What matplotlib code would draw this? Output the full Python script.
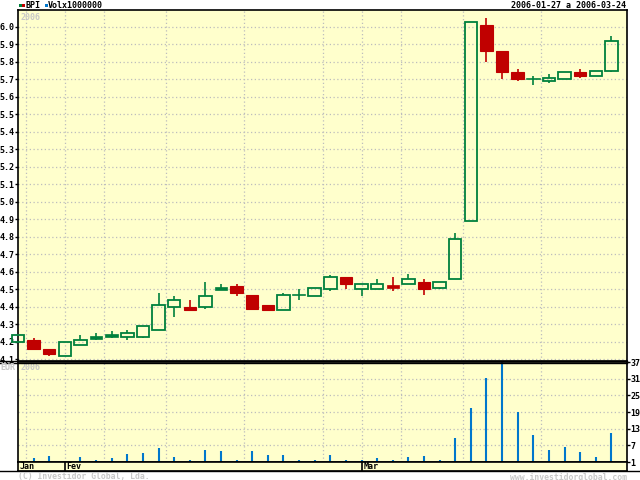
import matplotlib
matplotlib.use("Agg")
import matplotlib.pyplot as plt
from matplotlib.patches import Rectangle
from matplotlib.lines import Line2D

# BPI daily candles, 2006-01-27 .. 2006-03-24 (one entry per trading day)
opens  = [4.20, 4.21, 4.16, 4.12, 4.18, 4.22, 4.23, 4.23, 4.23, 4.27,
          4.40, 4.40, 4.40, 4.50, 4.52, 4.47, 4.41, 4.38, 4.47, 4.46,
          4.50, 4.57, 4.50, 4.50, 4.52, 4.53, 4.54, 4.51, 4.56, 4.89,
          6.01, 5.86, 5.74, 5.70, 5.69, 5.70, 5.74, 5.72, 5.75]
closes = [4.24, 4.16, 4.13, 4.20, 4.21, 4.23, 4.24, 4.25, 4.29, 4.41,
          4.44, 4.38, 4.46, 4.51, 4.48, 4.39, 4.38, 4.47, 4.47, 4.51,
          4.57, 4.53, 4.53, 4.53, 4.51, 4.56, 4.50, 4.54, 4.79, 6.03,
          5.86, 5.74, 5.70, 5.70, 5.71, 5.74, 5.72, 5.75, 5.92]
highs  = [4.24, 4.22, 4.16, 4.20, 4.24, 4.25, 4.26, 4.27, 4.29, 4.48,
          4.46, 4.44, 4.54, 4.53, 4.53, 4.47, 4.41, 4.48, 4.50, 4.51,
          4.58, 4.57, 4.53, 4.56, 4.57, 4.59, 4.56, 4.54, 4.82, 6.03,
          6.05, 5.86, 5.76, 5.72, 5.73, 5.74, 5.76, 5.75, 5.95]
lows   = [4.20, 4.16, 4.12, 4.12, 4.18, 4.21, 4.22, 4.21, 4.22, 4.27,
          4.34, 4.38, 4.39, 4.50, 4.46, 4.39, 4.38, 4.38, 4.44, 4.46,
          4.49, 4.50, 4.46, 4.50, 4.49, 4.53, 4.47, 4.50, 4.56, 4.89,
          5.80, 5.70, 5.69, 5.67, 5.68, 5.70, 5.71, 5.72, 5.74]
volume = [1.0, 2.3, 3.3, 1.0, 2.7, 1.9, 2.3, 4.0, 4.1, 6.1,
          2.9, 1.9, 5.5, 4.8, 1.6, 4.8, 3.4, 3.4, 1.6, 1.6,
          3.4, 1.9, 1.9, 2.3, 1.6, 2.7, 3.0, 1.6, 9.5, 20.6,
          31.4, 37.0, 18.9, 10.9, 5.2, 6.3, 4.5, 2.7, 11.3]

price_ticks = [4.1, 4.2, 4.3, 4.4, 4.5, 4.6, 4.7, 4.8, 4.9, 5.0,
               5.1, 5.2, 5.3, 5.4, 5.5, 5.6, 5.7, 5.8, 5.9, 6.0]
vol_ticks = [1, 7, 13, 19, 25, 31, 37]
week_breaks = [0.5, 5.5, 9.5, 14.5, 19.5, 24.5, 28.5, 33.5]
month_names = ["Jan", "Fev", "Mar"]
month_starts = [0, 3, 22]

GREEN = "#00803c"
RED = "#c00000"
BLUE = "#0077cc"
BG = "#ffffcc"
GRID = "#bdbdbd"
LIGHT = "#c8c8c8"
MONO = "DejaVu Sans Mono"
FS = 6.0

fig = plt.figure(figsize=(6.4, 4.8), dpi=100)
W, H = 640.0, 480.0

def box(x0, y0, x1, y1):
    return [x0 / W, 1 - y1 / H, (x1 - x0) / W, (y1 - y0) / H]

ax = fig.add_axes(box(18, 10, 627, 361))
axv = fig.add_axes(box(18, 362, 627, 462))
axm = fig.add_axes(box(18, 462, 627, 471))

for a in (ax, axv, axm):
    a.set_facecolor(BG)
    a.set_xlim(0, 39)
    for s in a.spines.values():
        s.set_linewidth(1.2)
        s.set_color("black")

# grids
for a in (ax, axv):
    for x in week_breaks + month_starts[1:]:
        a.axvline(x, color=GRID, lw=0.9, ls=(0, (1, 2)), zorder=0)

ax.set_ylim(4.0914, 6.097)
for y in price_ticks:
    ax.axhline(y, color=GRID, lw=0.9, ls=(0, (1, 2)), zorder=0)

# candles
bw = 0.8
for i in range(len(opens)):
    o, c, h, l = opens[i], closes[i], highs[i], lows[i]
    up = c >= o
    col = GREEN if up else RED
    top, bot = max(o, c), min(o, c)
    if h > top:
        ax.plot([i, i], [top, h], color=col, lw=1.2, solid_capstyle="butt", zorder=2, clip_on=False)
    if l < bot:
        ax.plot([i, i], [l, bot], color=col, lw=1.2, solid_capstyle="butt", zorder=2, clip_on=False)
    if o == c:
        ax.plot([i - bw / 2, i + bw / 2], [o, o], color=col, lw=1.2, zorder=3, clip_on=False)
    elif top - bot < 0.015:
        ax.add_patch(Rectangle((i - bw / 2, bot - 0.004), bw, top - bot + 0.008,
                               facecolor=col, edgecolor=col, lw=0.5, zorder=3, clip_on=False))
    elif up:
        ax.add_patch(Rectangle((i - bw / 2, bot), bw, top - bot,
                               facecolor="none", edgecolor=col, lw=1.3, zorder=3, clip_on=False))
    else:
        ax.add_patch(Rectangle((i - bw / 2, bot), bw, top - bot,
                               facecolor=col, edgecolor=col, lw=0.8, zorder=3, clip_on=False))

ax.set_yticks(price_ticks)
ax.set_yticklabels([f"{t:.1f}" for t in price_ticks])
ax.set_xticks([])
ax.tick_params(axis="y", direction="out", length=2, width=1, pad=0.5, labelsize=FS)
for t in ax.get_yticklabels():
    t.set_fontfamily(MONO)
    t.set_fontweight("bold")

# volume
axv.set_ylim(1, 37)
for y in vol_ticks[1:-1]:
    axv.axhline(y, color=GRID, lw=0.9, ls=(0, (1, 2)), zorder=0)
axv.vlines(range(len(volume)), 1, volume, color=BLUE, lw=1.5, zorder=2)
axv.set_xticks([])
axv.yaxis.tick_right()
axv.set_yticks(vol_ticks)
axv.set_yticklabels([str(v) for v in vol_ticks])
axv.tick_params(axis="y", direction="out", length=2, width=1, pad=0.5, labelsize=FS)
for t in axv.get_yticklabels():
    t.set_fontfamily(MONO)
    t.set_fontweight("bold")
    t.set_zorder(10)

# month strip
axm.set_ylim(0, 1)
axm.set_xticks([])
axm.set_yticks([])
for x, name in zip(month_starts, month_names):
    if x > 0:
        axm.axvline(x, color="black", lw=1.2)
    axm.text(x + 0.12, 0.45, name, fontsize=FS, family=MONO, fontweight="bold",
             va="center", ha="left")

# texts
ax.text(0.004, 0.992, "2006", transform=ax.transAxes, fontsize=FS, family=MONO,
        color=LIGHT, va="top", ha="left", fontweight="bold")
axv.text(0.004, 0.985, "2006", transform=axv.transAxes, fontsize=FS, family=MONO,
         color=LIGHT, va="top", ha="left", fontweight="bold")
fig.text(0 / W, 1 - 368 / H, "EUR", fontsize=FS, family=MONO, color=LIGHT,
         va="center", ha="left", fontweight="bold")

# legend squares + labels
for x0, col in ((19, GREEN), (22, RED), (45, BLUE)):
    fig.add_artist(Rectangle((x0 / W, 1 - 7 / H), 3 / W, 3 / H, transform=fig.transFigure,
                             facecolor=col, edgecolor="none"))
fig.text(25 / W, 1 - 5 / H, "BPI", fontsize=FS, family=MONO, fontweight="bold",
         va="center", ha="left")
fig.text(48 / W, 1 - 5 / H, "Volx1000000", fontsize=FS, family=MONO, fontweight="bold",
         va="center", ha="left")
fig.text(626 / W, 1 - 5 / H, "2006-01-27 a 2006-03-24", fontsize=FS, family=MONO,
         fontweight="bold", va="center", ha="right")

fig.text(18 / W, 1 - 477 / H, "(C) Investidor Global, Lda.", fontsize=5.9, family=MONO,
         color=LIGHT, va="center", ha="left", fontweight="bold")
fig.text(627 / W, 1 - 477 / H, "www.investidorglobal.com", fontsize=5.9, family=MONO,
         color=LIGHT, va="center", ha="right", fontweight="bold")

# separator lines between panels (left margin to right border) and under the month strip
for yy in (361, 362.5):
    fig.add_artist(Line2D([0, 627 / W], [1 - yy / H, 1 - yy / H], color="black", lw=1.0))
fig.add_artist(Line2D([0, 1], [1 - 471 / H, 1 - 471 / H], color="black", lw=1.0))

fig.savefig("out.png", dpi=100, facecolor="white")
